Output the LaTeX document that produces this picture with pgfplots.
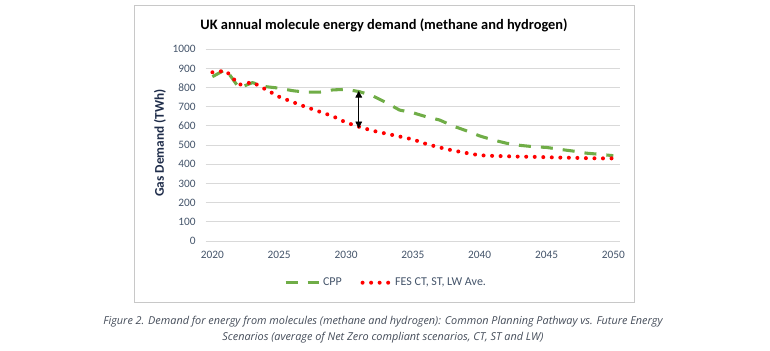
\documentclass[border=0pt]{standalone}
\usepackage{pgfplots}
\pgfplotsset{compat=1.18}
\usepackage{fontspec}
\setmainfont{Carlito}
\newfontfamily\capfont{Open Sans}
\usetikzlibrary{arrows.meta}
\definecolor{cppgreen}{HTML}{70AD47}
\definecolor{fesred}{HTML}{FF0000}
\definecolor{gridgray}{HTML}{D9D9D9}
\definecolor{ticktext}{HTML}{44546A}
\definecolor{ylabtext}{HTML}{1F2D4A}
\definecolor{framegray}{HTML}{C8C8C8}
\definecolor{captext}{HTML}{434B58}
\pgfplotsset{
  cpplegend/.style={legend image code/.code={\draw[##1] (0pt,0pt) -- (25pt,0pt);}},
  feslegend/.style={legend image code/.code={\draw[##1] (0pt,0pt) -- (21pt,0pt);}},
}
\begin{document}
\begin{tikzpicture}[x=0.75pt,y=0.75pt]
\path[use as bounding box] (0,0) rectangle (770,350);
\draw[framegray, line width=0.9pt] (134.3,47.7) rectangle (634.3,344.3);
\node[font=\fontsize{10.8}{13}\selectfont\bfseries, text=black] at (384,325) {UK annual molecule energy demand (methane and hydrogen)};
\node[font=\fontsize{10}{12}\selectfont\bfseries, text=ylabtext, rotate=90] at (160,207) {Gas Demand (TWh)};
\begin{axis}[
  at={(154.3pt,81.75pt)}, anchor=south west,
  scale only axis, width=310.7pt, height=143.8pt,
  xmin=2019.5, xmax=2050.5, ymin=0, ymax=1000,
  xtick={2020,2025,...,2050},
  ytick={0,100,...,1000},
  /pgf/number format/1000 sep={},
  /pgf/number format/assume math mode=true,
  tick label style={font=\fontsize{8.5}{10}\selectfont, text=ticktext},
  major tick length=0pt,
  ymajorgrids, grid style={gridgray, line width=0.75pt},
  axis line style={draw=none},
  axis x line*=bottom, axis y line*=left,
  xticklabel shift=4pt,
  yticklabel shift=4pt,
  clip=false,
  legend style={at={(0.436,-0.2175)}, anchor=center, draw=none, fill=none,
    legend columns=2, font=\fontsize{9}{11}\selectfont, text=ticktext,
    /tikz/every even column/.append style={column sep=12pt}},
  legend cell align=left,
]
\addplot[cppgreen, line width=2.3pt, dash pattern=on 9pt off 7.5pt, cpplegend]
coordinates {
(2020,857)(2021,895)(2022,798)(2023,826)(2024,805)(2025,797)(2026,784)
(2027,776)(2028,776)(2029,788)(2030,791)(2031,779)(2032,757)(2033,722)
(2034,683)(2035,669)(2036,648)(2037,631)(2038,600)(2039,575)(2040,548)
(2041,527)(2042,510)(2043,499)(2044,492)(2045,488)(2046,478)(2047,469)
(2048,458)(2049,452)(2050,445)
};
\addlegendentry{CPP}
\addplot[fesred, line width=3pt, line cap=round, dash pattern=on 0pt off 6.4pt, feslegend]
coordinates {
(2020,880)(2021,888)(2022,815)(2023,828)(2024,790)(2025,752)(2026,725)
(2027,699)(2028,675)(2029,651)(2030,618)(2031,595)(2032,575)(2033,560)
(2034,545)(2035,530)(2036,506)(2037,488)(2038,472)(2039,459)(2040,447)
(2041,444)(2042,442)(2043,440)(2044,439)(2045,437)(2046,435)(2047,434)
(2048,432)(2049,431)(2050,431)
};
\addlegendentry{FES CT, ST, LW Ave.}
\draw[black, line width=0.6pt, {Triangle[width=5pt,length=5pt]}-{Triangle[width=5pt,length=5pt]}]
  (axis cs:2030.95,783) -- (axis cs:2030.95,588);
\end{axis}
\node[font=\capfont\itshape\fontsize{8.15}{10}\selectfont, text=captext] at (383,28.3) {Figure 2. Demand for energy from molecules (methane and hydrogen): Common Planning Pathway vs. Future Energy};
\node[font=\capfont\itshape\fontsize{8.15}{10}\selectfont, text=captext] at (383,12) {Scenarios (average of Net Zero compliant scenarios, CT, ST and LW)};
\end{tikzpicture}
\end{document}
